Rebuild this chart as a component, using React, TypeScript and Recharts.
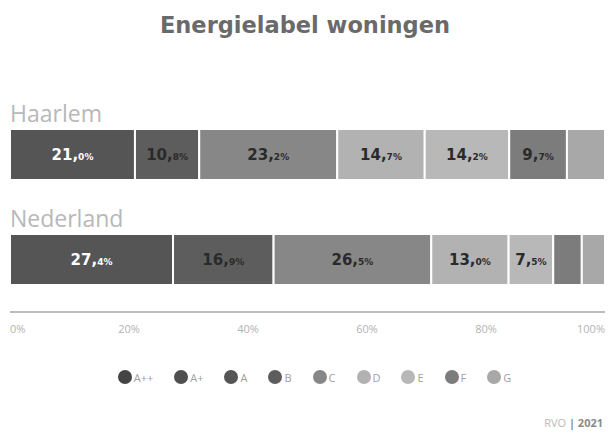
import React from 'react';
import { BarChart, Bar, XAxis, YAxis, LabelList, Legend } from 'recharts';

const regions = ['Haarlem', 'Nederland'];
const labels = ['A++', 'A+', 'A', 'B', 'C', 'D', 'E', 'F', 'G'];
const barKeys = ['A', 'B', 'C', 'D', 'E', 'F', 'G'];
const haarlem = [0, 0, 21.0, 10.8, 23.2, 14.7, 14.2, 9.7, 6.4];
const nederland = [0, 0, 27.4, 16.9, 26.5, 13.0, 7.5, 4.8, 3.9];
const xTicks = [0, 20, 40, 60, 80, 100];

const colors: Record<string, string> = {
  'A++': '#444444',
  'A+': '#4f4f4f',
  A: '#555555',
  B: '#5d5d5d',
  C: '#878787',
  D: '#b2b2b2',
  E: '#b8b8b8',
  F: '#7c7c7c',
  G: '#a8a8a8',
};
const labelColors: Record<string, string> = { A: '#ffffff' };

const data = regions.map((name, i) => {
  const vals = i === 0 ? haarlem : nederland;
  const row: Record<string, any> = { name };
  labels.forEach((l, j) => {
    row[l] = vals[j];
  });
  return row;
});

const valueLabel = (color: string) => (props: any) => {
  const { x, y, width, height, value } = props;
  if (value == null || value < 7) return null;
  const [intPart, decPart] = Number(value).toFixed(1).split('.');
  return (
    <text
      x={x + width / 2}
      y={y + height / 2 + 5}
      textAnchor="middle"
      fill={color}
      fontFamily="DejaVu Sans"
      fontWeight="bold"
    >
      <tspan fontSize={15}>{intPart},</tspan>
      <tspan fontSize={9}>{decPart}%</tspan>
    </text>
  );
};

const nameLabel = (props: any) => {
  const { x, y, value } = props;
  return (
    <text x={x} y={y - 7} fontSize={23} fill="#b8b8b8" fontFamily="Open Sans">
      {value}
    </text>
  );
};

const AxisTick = (props: any) => {
  const { x, y, payload, index } = props;
  const last = xTicks.length - 1;
  const anchor = index === 0 ? 'start' : index === last ? 'end' : 'middle';
  return (
    <text x={x} y={y} dy="0.71em" textAnchor={anchor} fontSize={11} fill="#b3b3b3" fontFamily="Open Sans">
      {payload.value}%
    </text>
  );
};

const LegendContent = () => (
  <div
    style={{
      display: 'flex',
      justifyContent: 'center',
      alignItems: 'center',
      height: 70,
      paddingLeft: 14,
      boxSizing: 'border-box',
      fontFamily: 'Open Sans',
      fontSize: 11,
      color: '#a0a0a0',
    }}
  >
    {labels.map((l, i) => (
      <div
        key={l}
        style={{ display: 'flex', alignItems: 'center', marginRight: i === labels.length - 1 ? 0 : 21 }}
      >
        <span
          style={{
            width: 14,
            height: 14,
            borderRadius: '50%',
            background: colors[l],
            display: 'inline-block',
            marginRight: 2,
          }}
        />
        <span>{l}</span>
      </div>
    ))}
  </div>
);

export default function App() {
  return (
    <div style={{ position: 'absolute', left: 0, top: 0, width: 610, height: 434, background: '#fff' }}>
      <div
        style={{
          position: 'absolute',
          top: 14,
          left: 0,
          width: 610,
          textAlign: 'center',
          fontFamily: 'DejaVu Sans',
          fontWeight: 'bold',
          fontSize: 22.5,
          lineHeight: '22px',
          color: '#6a6a6a',
        }}
      >
        Energielabel woningen
      </div>
      <BarChart
        width={610}
        height={434}
        data={data}
        layout="vertical"
        margin={{ top: 102, right: 5, left: 10, bottom: 22 }}
        barSize={51}
      >
        <XAxis
          type="number"
          domain={[0, 100]}
          ticks={xTicks}
          tickLine={false}
          axisLine={{ stroke: '#bdbdbd', strokeWidth: 2 }}
          tick={<AxisTick />}
          tickMargin={7}
          height={30}
          interval={0}
        />
        <YAxis type="category" dataKey="name" hide />
        <Legend verticalAlign="bottom" height={70} content={<LegendContent />} />
        {barKeys.map((k, i) => (
          <Bar
            key={k}
            dataKey={k}
            stackId="s"
            fill={colors[k]}
            stroke="#ffffff"
            strokeWidth={2}
            isAnimationActive={false}
          >
            <LabelList dataKey={k} content={valueLabel(labelColors[k] || '#2a2a2a')} />
            {i === 0 ? <LabelList dataKey="name" content={nameLabel} /> : null}
          </Bar>
        ))}
      </BarChart>
      <div
        style={{
          position: 'absolute',
          right: 7,
          top: 417,
          fontFamily: 'Open Sans',
          fontSize: 11,
          lineHeight: '12px',
          color: '#b8b8b8',
        }}
      >
        RVO <span style={{ fontWeight: 'bold', color: '#8a8a8a' }}>| 2021</span>
      </div>
    </div>
  );
}
